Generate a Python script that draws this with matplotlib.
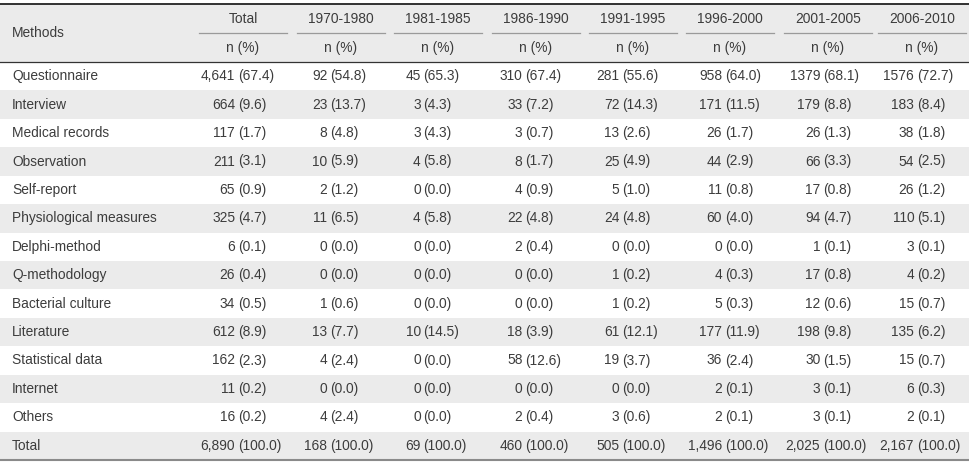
import matplotlib.pyplot as plt

methods = ["Questionnaire", "Interview", "Medical records", "Observation",
           "Self-report", "Physiological measures", "Delphi-method",
           "Q-methodology", "Bacterial culture", "Literature",
           "Statistical data", "Internet", "Others", "Total"]
periods = ["Total", "1970-1980", "1981-1985", "1986-1990", "1991-1995",
           "1996-2000", "2001-2005", "2006-2010"]

# one list per column: (n, %) as printed
col_total = [("4,641", "67.4"), ("664", "9.6"), ("117", "1.7"), ("211", "3.1"),
             ("65", "0.9"), ("325", "4.7"), ("6", "0.1"), ("26", "0.4"),
             ("34", "0.5"), ("612", "8.9"), ("162", "2.3"), ("11", "0.2"),
             ("16", "0.2"), ("6,890", "100.0")]
col_1970 = [("92", "54.8"), ("23", "13.7"), ("8", "4.8"), ("10", "5.9"),
            ("2", "1.2"), ("11", "6.5"), ("0", "0.0"), ("0", "0.0"),
            ("1", "0.6"), ("13", "7.7"), ("4", "2.4"), ("0", "0.0"),
            ("4", "2.4"), ("168", "100.0")]
col_1981 = [("45", "65.3"), ("3", "4.3"), ("3", "4.3"), ("4", "5.8"),
            ("0", "0.0"), ("4", "5.8"), ("0", "0.0"), ("0", "0.0"),
            ("0", "0.0"), ("10", "14.5"), ("0", "0.0"), ("0", "0.0"),
            ("0", "0.0"), ("69", "100.0")]
col_1986 = [("310", "67.4"), ("33", "7.2"), ("3", "0.7"), ("8", "1.7"),
            ("4", "0.9"), ("22", "4.8"), ("2", "0.4"), ("0", "0.0"),
            ("0", "0.0"), ("18", "3.9"), ("58", "12.6"), ("0", "0.0"),
            ("2", "0.4"), ("460", "100.0")]
col_1991 = [("281", "55.6"), ("72", "14.3"), ("13", "2.6"), ("25", "4.9"),
            ("5", "1.0"), ("24", "4.8"), ("0", "0.0"), ("1", "0.2"),
            ("1", "0.2"), ("61", "12.1"), ("19", "3.7"), ("0", "0.0"),
            ("3", "0.6"), ("505", "100.0")]
col_1996 = [("958", "64.0"), ("171", "11.5"), ("26", "1.7"), ("44", "2.9"),
            ("11", "0.8"), ("60", "4.0"), ("0", "0.0"), ("4", "0.3"),
            ("5", "0.3"), ("177", "11.9"), ("36", "2.4"), ("2", "0.1"),
            ("2", "0.1"), ("1,496", "100.0")]
col_2001 = [("1379", "68.1"), ("179", "8.8"), ("26", "1.3"), ("66", "3.3"),
            ("17", "0.8"), ("94", "4.7"), ("1", "0.1"), ("17", "0.8"),
            ("12", "0.6"), ("198", "9.8"), ("30", "1.5"), ("3", "0.1"),
            ("3", "0.1"), ("2,025", "100.0")]
col_2006 = [("1576", "72.7"), ("183", "8.4"), ("38", "1.8"), ("54", "2.5"),
            ("26", "1.2"), ("110", "5.1"), ("3", "0.1"), ("4", "0.2"),
            ("15", "0.7"), ("135", "6.2"), ("15", "0.7"), ("6", "0.3"),
            ("2", "0.1"), ("2,167", "100.0")]
columns = [col_total, col_1970, col_1981, col_1986, col_1991, col_1996,
           col_2001, col_2006]

W, H = 970, 467
FONT = "Liberation Sans"
FS = 9.9
TXT = "#3c3c3c"
SHADE = "#ebebeb"

fig = plt.figure(figsize=(W / 100, H / 100), dpi=100)
ax = fig.add_axes([0, 0, 1, 1])
ax.set_xlim(0, W)
ax.set_ylim(H, 0)
ax.axis("off")

top, head_bot, bottom = 4, 62, 460
row_h = (bottom - head_bot) / len(methods)
centers = [243, 341, 438, 536, 633, 730, 828, 922]
half_line = 44

# shaded rows
ax.axhspan(top, head_bot, color=SHADE, lw=0)
for i in range(len(methods)):
    if i % 2 == 1:
        ax.axhspan(head_bot + i * row_h, head_bot + (i + 1) * row_h,
                   color=SHADE, lw=0)

# rules
ax.plot([0, W], [top, top], color="#222222", lw=1.3)
ax.plot([0, W], [head_bot, head_bot], color="#333333", lw=0.9)
ax.plot([0, W], [bottom, bottom], color="#8a8a8a", lw=1.5)

kw = dict(fontsize=FS, color=TXT, family=FONT, va="center")
ax.text(12, (top + head_bot) / 2, "Methods", ha="left", **kw)
for c, p in zip(centers, periods):
    ax.text(c, 19, p, ha="center", **kw)
    ax.plot([c - half_line, c + half_line], [33, 33], color="#9a9a9a", lw=0.9)
    ax.text(c, 48, "n (%)", ha="center", **kw)

renderer = fig.canvas.get_renderer()


def width(s):
    t = ax.text(0, 0, s, fontsize=FS, family=FONT)
    w = t.get_window_extent(renderer).width
    t.remove()
    return w


gap = 2.7
for i, m in enumerate(methods):
    ax.text(12, head_bot + (i + 0.5) * row_h, m, ha="left", **kw)

for c, col in zip(centers, columns):
    wn = max(width(n) for n, _ in col)
    wp = max(width("(" + p + ")") for _, p in col)
    block = wn + gap + wp
    anchor = c - 2 - block / 2 + wn
    for i, (n, p) in enumerate(col):
        y = head_bot + (i + 0.5) * row_h
        ax.text(anchor, y, n, ha="right", **kw)
        ax.text(anchor + gap, y, "(" + p + ")", ha="left", **kw)

fig.savefig("out.png", dpi=100)
